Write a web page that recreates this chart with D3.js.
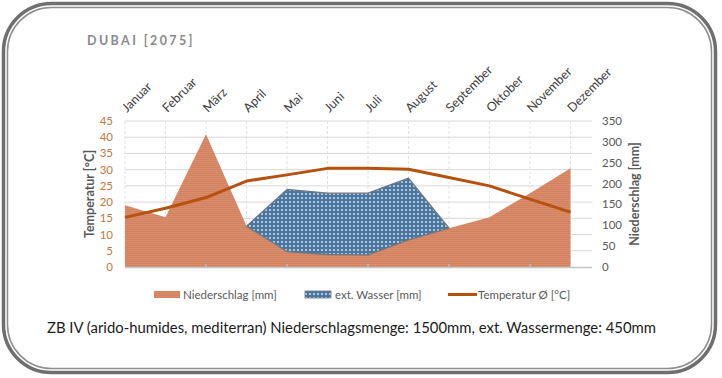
<!DOCTYPE html>
<html>
<head>
<meta charset="utf-8">
<script src="https://cdn.jsdelivr.net/npm/d3@7"></script>
<style>
  html, body { margin: 0; padding: 0; background: #fff; }
  svg { display: block; font-family: Lato, "Open Sans", sans-serif; }
</style>
</head>
<body>
<div id="chart"></div>
<script>
// data
const months = ["Januar", "Februar", "März", "April", "Mai", "Juni", "Juli", "August", "September", "Oktober", "November", "Dezember"];
const niederschlag = [148, 119, 318, 98, 37, 30, 29, 65, 93, 119, 177, 237];
const extWasser = [0, 0, 0, 0, 149, 147, 148, 148, 0, 0, 0, 0];
const temperatur = [15.3, 18.1, 21.4, 26.5, 28.4, 30.4, 30.4, 30.1, 27.6, 25.0, 20.9, 16.9];
const tempTicks = [0, 5, 10, 15, 20, 25, 30, 35, 40, 45];
const rainTicks = [0, 50, 100, 150, 200, 250, 300, 350];
const titleText = "DUBAI [2075]";
const captionText = "ZB IV (arido-humides, mediterran) Niederschlagsmenge: 1500mm, ext. Wassermenge: 450mm";

const width = 722, height = 378;
const plot = { left: 125, right: 570.5, end: 592, top: 121, bottom: 267 };

const svg = d3.select("#chart").append("svg").attr("width", width).attr("height", height);
const defs = svg.append("defs");

// striped salmon fill for Niederschlag
const pr = defs.append("pattern").attr("id", "rain").attr("patternUnits", "userSpaceOnUse")
    .attr("width", 4).attr("height", 2);
pr.append("rect").attr("width", 4).attr("height", 2).attr("fill", "#d98d6c");
pr.append("rect").attr("y", 1).attr("width", 4).attr("height", 1).attr("fill", "#d2825f");

// dotted blue fill for ext. Wasser
const pw = defs.append("pattern").attr("id", "water").attr("patternUnits", "userSpaceOnUse")
    .attr("width", 4).attr("height", 4);
pw.append("rect").attr("width", 4).attr("height", 4).attr("fill", "#4b76a0");
pw.append("rect").attr("x", 1).attr("y", 1).attr("width", 2).attr("height", 2).attr("fill", "#aec6da");

// frame
svg.append("rect").attr("x", 3.5).attr("y", 3.5).attr("width", 712).attr("height", 369)
    .attr("rx", 48).attr("fill", "#fff").attr("stroke", "#6f6f6f").attr("stroke-width", 3.5);
svg.append("rect").attr("x", 7.5).attr("y", 7.5).attr("width", 704).attr("height", 361)
    .attr("rx", 44).attr("fill", "none").attr("stroke", "#8e8e8e").attr("stroke-width", 1.5);

// title
svg.append("text").attr("x", 87).attr("y", 45).text(titleText)
    .attr("font-size", 12.5).attr("font-weight", "bold").attr("letter-spacing", 2.4)
    .attr("fill", "#8a8a8a");

// scales
const x = d3.scalePoint().domain(months).range([plot.left, plot.right]);
const yT = d3.scaleLinear().domain([0, 45]).range([plot.bottom, plot.top]);
const yR = d3.scaleLinear().domain([0, 350]).range([plot.bottom, plot.top]);

// gridlines
svg.append("g").selectAll("line").data(tempTicks.slice(1)).join("line")
    .attr("x1", plot.left).attr("x2", plot.end)
    .attr("y1", d => yT(d)).attr("y2", d => yT(d))
    .attr("stroke", "#d9d9d9").attr("stroke-width", 1);
svg.append("g").selectAll("line").data(months).join("line")
    .attr("x1", d => x(d)).attr("x2", d => x(d))
    .attr("y1", plot.top).attr("y2", plot.bottom)
    .attr("stroke", "#e2e2e2").attr("stroke-dasharray", "3,2");

// stacked areas
const rows = months.map((m, i) => ({ m, i, rain: niederschlag[i], ext: extWasser[i] }));
const rainArea = d3.area().x(d => x(d.m)).y0(yR(0)).y1(d => yR(d.rain));
svg.append("path").datum(rows).attr("d", rainArea).attr("fill", "url(#rain)");

const hasExt = i => extWasser[i] > 0 || extWasser[i - 1] > 0 || extWasser[i + 1] > 0;
const extArea = d3.area().x(d => x(d.m)).y0(d => yR(d.rain)).y1(d => yR(d.rain + d.ext));
svg.append("path").datum(rows.filter(d => hasExt(d.i))).attr("d", extArea)
    .attr("fill", "url(#water)").attr("stroke", "#6f7680").attr("stroke-width", 1.3)
    .attr("stroke-linejoin", "round");

// x axis line + ticks
svg.append("line").attr("x1", plot.left).attr("x2", plot.end)
    .attr("y1", plot.bottom + 0.5).attr("y2", plot.bottom + 0.5)
    .attr("stroke", "#c4c4c4").attr("stroke-width", 1.5);
svg.append("g").selectAll("line").data(months.filter((m, i) => i % 2 === 0 && i > 0)).join("line")
    .attr("x1", d => x(d)).attr("x2", d => x(d))
    .attr("y1", plot.bottom - 3).attr("y2", plot.bottom + 1)
    .attr("stroke", "#c4c4c4").attr("stroke-width", 1.2);

// temperature line
const line = d3.line().x((d, i) => x(months[i])).y(d => yT(d));
svg.append("path").datum(temperatur).attr("d", line)
    .attr("fill", "none").attr("stroke", "#b6520f").attr("stroke-width", 3)
    .attr("stroke-linejoin", "round");

// month labels
svg.append("g").selectAll("text").data(months).join("text")
    .attr("transform", d => `translate(${x(d) + 2},${plot.top - 8}) rotate(-45)`)
    .text(d => d).attr("font-size", 12.5).attr("fill", "#404040");

// left axis
svg.append("g").selectAll("text").data(tempTicks).join("text")
    .attr("x", 113).attr("y", d => yT(d) + 4).attr("text-anchor", "end")
    .text(d => d).attr("font-size", 11.5).attr("fill", "#bf7a3f");
svg.append("text").attr("transform", `translate(94,${(plot.top + plot.bottom) / 2}) rotate(-90)`)
    .attr("text-anchor", "middle").text("Temperatur [°C]")
    .attr("font-size", 12.5).attr("font-weight", "bold").attr("fill", "#595959");

// right axis
svg.append("g").selectAll("text").data(rainTicks).join("text")
    .attr("x", 602).attr("y", d => yR(d) + 4)
    .text(d => d).attr("font-size", 11.5).attr("fill", "#595959");
svg.append("text").attr("transform", `translate(639,${(plot.top + plot.bottom) / 2}) rotate(-90)`)
    .attr("text-anchor", "middle").text("Niederschlag [mm]")
    .attr("font-size", 12.5).attr("font-weight", "bold").attr("fill", "#595959");

// legend
const lg = svg.append("g").attr("font-size", 11.5).attr("fill", "#595959");
lg.append("rect").attr("x", 154).attr("y", 291).attr("width", 26).attr("height", 7).attr("fill", "url(#rain)");
lg.append("text").attr("x", 183).attr("y", 298.5).text("Niederschlag [mm]");
lg.append("rect").attr("x", 305).attr("y", 291).attr("width", 26).attr("height", 7)
    .attr("fill", "url(#water)").attr("stroke", "#6f7680").attr("stroke-width", 0.8);
lg.append("text").attr("x", 335).attr("y", 298.5).text("ext. Wasser [mm]");
lg.append("line").attr("x1", 448).attr("x2", 477).attr("y1", 294.5).attr("y2", 294.5)
    .attr("stroke", "#b6520f").attr("stroke-width", 3);
lg.append("text").attr("x", 478).attr("y", 298.5).text("Temperatur Ø [°C]");

// caption
svg.append("text").attr("x", 47).attr("y", 333).text(captionText)
    .attr("font-size", 14.5).attr("fill", "#1a1a1a")
    .attr("textLength", 609).attr("lengthAdjust", "spacingAndGlyphs");
</script>
</body>
</html>
